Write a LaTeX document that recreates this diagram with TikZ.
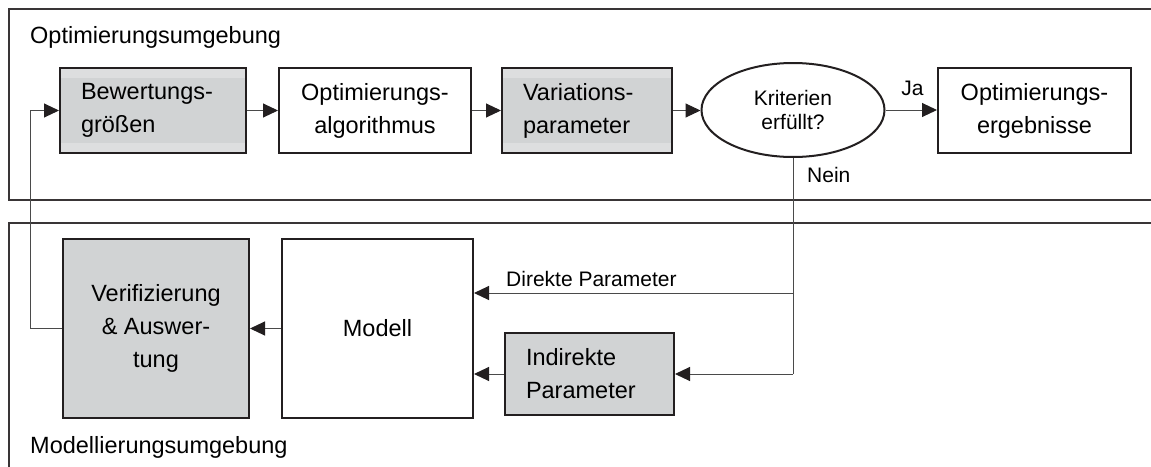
\documentclass[tikz,border=0pt]{standalone}
\usepackage{fontspec}
\setmainfont{Liberation Sans}
\usetikzlibrary{arrows.meta,shapes.geometric}
\definecolor{ink}{HTML}{231F20}
\definecolor{wire}{HTML}{4A4A4A}
\definecolor{boxgray}{HTML}{D1D3D4}
\definecolor{bandgray}{HTML}{DDDEDF}
\tikzset{
  frame/.style={draw=ink!90, line width=1.8pt},
  block/.style={draw=ink, line width=2pt, fill=white, minimum height=85pt,
    inner sep=0pt, align=center, font=\fontsize{23.5}{33}\selectfont},
  leftblock/.style={block, align=left, inner xsep=21pt, text width=#1},
  graybox/.style={fill=boxgray},
  banded/.style={fill=bandgray, path picture={
    \fill[boxgray] ([yshift=-10pt]path picture bounding box.north west)
      rectangle ([yshift=10pt]path picture bounding box.south east);}},
  decision/.style={ellipse, draw=ink, line width=2pt, fill=white,
    minimum width=183pt, minimum height=94pt, inner sep=0pt, align=center,
    font=\fontsize{21}{24}\selectfont},
  conn/.style={draw=wire, line width=1pt},
  flow/.style={conn, -{Triangle[length=15pt,width=14pt,color=ink]}},
  tag/.style={inner sep=0pt, font=\fontsize{21}{24}\selectfont},
  envlabel/.style={inner sep=0pt, anchor=base west, font=\fontsize{23.5}{28}\selectfont}
}
\begin{document}
\begin{tikzpicture}[x=1pt,y=-1pt]
\useasboundingbox (0,0) rectangle (1151,466);
\clip (0,0) rectangle (1151,466);
\fill[white] (0,0) rectangle (1151,466);

% environments
\draw[frame] (1170,9) -- (9,9) -- (9,200) -- (1170,200);
\draw[frame] (1170,223) -- (9,223) -- (9,480);
\node[envlabel] (optenv) at (30,43) {Optimierungsumgebung};
\node[envlabel] (modenv) at (30,453) {Modellierungsumgebung};

% optimisation loop
\node[leftblock=144pt, banded, minimum height=85pt] (bew) at (153,110.5) {Bewertungs-\\größen};
\node[block, minimum width=192pt] (alg) at (375,110.5) {Optimierungs-\\algorithmus};
\node[leftblock=128pt, banded, minimum height=85pt] (var) at (587,110.5) {Variations-\\parameter};
\node[decision] (krit) at (793,110) {Kriterien\\erfüllt?};
\node[block, minimum width=193pt] (erg) at (1034.5,110.5) {Optimierungs-\\ergebnisse};

% modelling environment
\node[block, graybox, minimum width=186pt, minimum height=179pt] (ver) at (156,328.5) {Verifizierung\\\& Auswer-\\tung};
\node[block, minimum width=191pt, minimum height=179pt] (mod) at (377.5,328.5) {Modell};
\node[leftblock=127pt, graybox, minimum height=82pt] (ind) at (589.5,374) {Indirekte\\Parameter};

% connectors
\draw[flow] (bew.east) -- (alg.west);
\draw[flow] (alg.east) -- (var.west);
\draw[flow] (var.east) -- (krit.west |- var.east);
\draw[flow] (krit.east) -- (erg.west |- krit.east);
\node[tag, anchor=base] (ja) at (912.5,95) {Ja};

\coordinate (fb) at (30,328.5);
\draw[flow] (ver.west) -- (fb) |- (bew.west);

\coordinate (direct) at (793,293);
\coordinate (indirect) at (793,374);
\draw[conn] (krit.south) -- (indirect);
\node[tag, anchor=base west] (nein) at (807,182) {Nein};
\draw[flow] (direct) -- (mod.east |- direct);
\node[tag, anchor=base west] (dirlabel) at (506,286) {Direkte Parameter};
\draw[flow] (indirect) -- (ind.east);
\draw[flow] (ind.west) -- (mod.east |- ind.west);
\draw[flow] (mod.west |- ver.east) -- (ver.east);
\end{tikzpicture}
\end{document}
